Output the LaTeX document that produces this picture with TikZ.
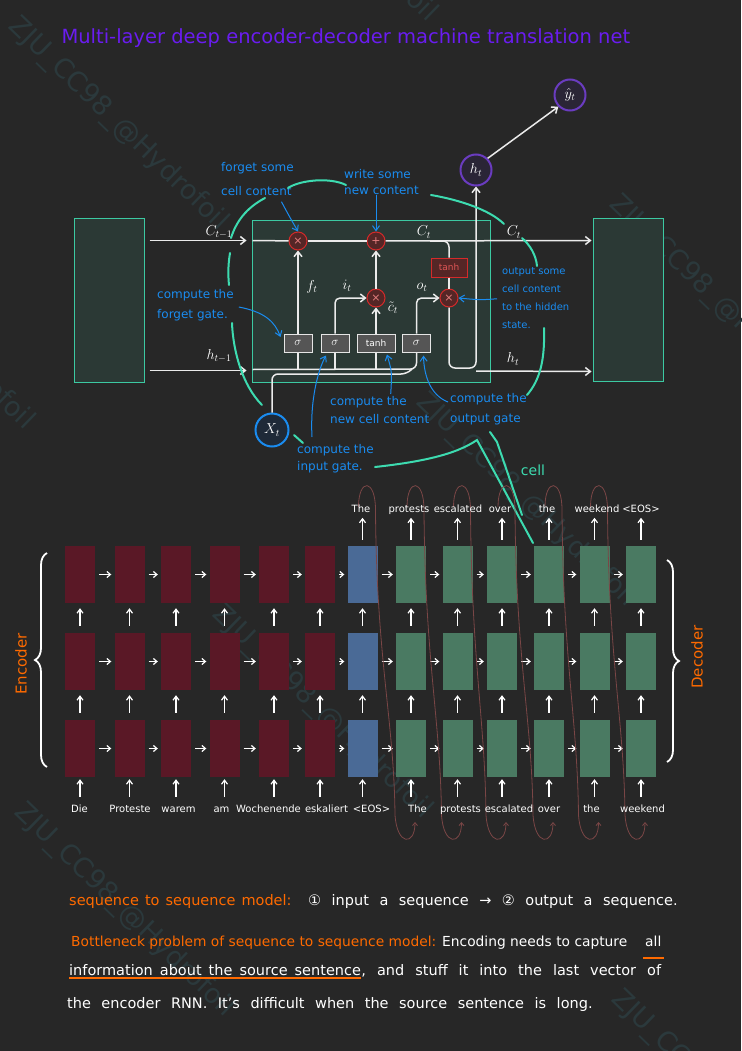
\documentclass[tikz,border=0pt]{standalone}
\usepackage{fontspec}
\setmainfont{DejaVu Sans}
\usetikzlibrary{calc,positioning,decorations.pathreplacing,arrows.meta}
\newcommand{\wordgap}[1]{\spaceskip=#1\relax}

\begin{document}
\begin{tikzpicture}[x=1pt,y=-1pt,font=\fontsize{11}{13}\selectfont]

% =========================
% Color Definitions
% =========================
\definecolor{bgcol}{HTML}{272727}
\definecolor{wmcol}{HTML}{2B393C}
\definecolor{titlecol}{HTML}{6A1CF0}
\definecolor{cellfill}{HTML}{2B3935}
\definecolor{cellline}{HTML}{3CC9A2}
\definecolor{ringcol}{HTML}{3DDBB0}
\definecolor{notecol}{HTML}{1A8CF0}
\definecolor{opred}{HTML}{D42A2A}
\definecolor{opfill}{HTML}{552626}
\definecolor{gatefill}{HTML}{555555}
\definecolor{hidcol}{HTML}{6A3CC0}
\definecolor{hidfill}{HTML}{2A2536}
\definecolor{xfill}{HTML}{1F2A38}
\definecolor{encfill}{HTML}{5A1826}
\definecolor{eosfill}{HTML}{4A6A96}
\definecolor{decfill}{HTML}{4A7A62}
\definecolor{feedcol}{HTML}{7A4646}
\definecolor{orangecol}{HTML}{FF6A00}

% =========================
% Canvas
% =========================
\fill[bgcol] (0,0) rectangle (741,1051);
\useasboundingbox (0,0) rectangle (741,1051);

% =========================
% Styles
% =========================
\tikzset{
    wmark/.style={text=wmcol, font=\fontsize{27}{27}\selectfont, rotate=-44, anchor=west, inner sep=0pt},
    cellrect/.style={draw=cellline, fill=cellfill, line width=1pt, inner sep=0pt},
    pointop/.style={circle, draw=opred, fill=opfill, line width=1pt, minimum size=18pt, inner sep=0pt,
        text=opred!60!white, font=\fontsize{11}{11}\selectfont},
    gatebox/.style={draw=white!90!black, fill=gatefill, line width=1pt, minimum height=18pt, inner sep=0pt,
        text=white, font=\fontsize{9}{9}\selectfont},
    statecirc/.style={circle, line width=2pt, minimum size=31pt, inner sep=0pt, text=white,
        font=\fontsize{14}{14}\selectfont},
    wline/.style={draw=white!92!black, line width=1.5pt},
    warrow/.style={wline, -{Straight Barb[length=5pt,width=8pt]}},
    note/.style={text=notecol, align=left, inner sep=0pt, anchor=north west},
    noteline/.style={draw=notecol, line width=1pt, -{Straight Barb[length=5pt,width=7pt]}},
    ringline/.style={draw=ringcol, line width=2pt, line cap=round},
    statelabel/.style={text=white, font=\fontsize{14}{14}\selectfont},
    rnnbox/.style={minimum width=30pt, minimum height=57pt, inner sep=0pt},
    harrow/.style={draw=white, line width=1.2pt, -{Straight Barb[length=3.5pt,width=6pt]}},
    varrow/.style={draw=white, line width=1.2pt, -{Straight Barb[length=4pt,width=6pt]}},
    wordlab/.style={anchor=base, inner sep=0pt, text=white, font=\fontsize{10}{10}\selectfont},
    feedline/.style={draw=feedcol, line width=0.8pt, -{Straight Barb[length=3pt,width=5pt]}},
    sidebrace/.style={draw=white, line width=1.8pt, decorate, decoration={brace, amplitude=12pt}},
    sidelabel/.style={rotate=90, text=orangecol, font=\fontsize{15}{15}\selectfont},
    para/.style={anchor=base west, inner sep=0pt, text=white, font=\fontsize{14.5}{15}\selectfont}
}

% =========================
% Watermarks
% =========================
\foreach \wx/\wy [count=\k] in {12/22, 221/-187, 613/200, -182/221, 420/398, 216/610, 18/808, 615/995}
    \node[wmark] (wm\k) at (\wx,\wy) {ZJU\_CC98\_@Hydrofoil};

% =========================
% Title
% =========================
\node[anchor=west, text=titlecol, font=\fontsize{19.5}{22}\selectfont] (title) at (58,38)
    {Multi-layer deep encoder-decoder machine translation net};

% =========================
% LSTM cell
% =========================
\node[cellrect, minimum width=70pt, minimum height=164pt] (prevcell) at (109,300) {};
\node[cellrect, minimum width=70pt, minimum height=163pt] (nextcell) at (628,299.5) {};
\node[cellrect, minimum width=238pt, minimum height=162pt] (cell) at (371,301) {};

\node[pointop] (mulf) at (298,241) {×};
\node[pointop] (addc) at (376,241) {+};
\node[pointop] (muli) at (376,298) {×};
\node[pointop] (mulo) at (449,298) {×};
\node[draw=opred, fill=opfill, line width=1pt, minimum width=36pt, minimum height=19pt, inner sep=0pt,
    text=opred!80!white, font=\fontsize{9}{9}\selectfont] (tanhc) at (449,267.5) {tanh};

\node[gatebox, minimum width=28pt, font=\fontsize{13}{13}\selectfont] (sigf) at (298,343) {$\sigma$};
\node[gatebox, minimum width=28pt, font=\fontsize{13}{13}\selectfont] (sigi) at (335,343) {$\sigma$};
\node[gatebox, minimum width=38pt] (tanhg) at (376,343) {tanh};
\node[gatebox, minimum width=28pt, font=\fontsize{13}{13}\selectfont] (sigo) at (416.5,343) {$\sigma$};

\node[statecirc, draw=hidcol, fill=hidfill] (hcirc) at (476,170) {$h_t$};
\node[statecirc, draw=hidcol, fill=hidfill] (ycirc) at (570,95) {$\hat{y}_t$};
\node[statecirc, draw=notecol, fill=xfill, minimum size=33pt] (xcirc) at (272,430) {$X_t$};

% cell state and hidden state lines
\draw[warrow] ($(prevcell.north east)+(5,23)$) -- ($(cell.north west)+(-5,21)$);
\draw[warrow] ($(prevcell.south east)+(5,-12)$) -- ($(cell.south west)+(-5,-12)$);
\draw[wline] ($(cell.north west)+(1,21)$) -- (mulf);
\draw[wline] (mulf) -- (addc);
\draw[warrow] (addc) -- ($(nextcell.north west)+(-1,23)$);
\draw[wline, rounded corners=6] (430,241) -- (449,241) -- (tanhc.north);
\draw[wline] (tanhc.south) -- (mulo.north);
\draw[warrow, rounded corners=6] (mulo.south) -- (449,368) -- (476,368) -- (hcirc.south);
\draw[warrow] (476,371) -- ($(nextcell.south west)+(-1,-10)$);
\draw[warrow] (hcirc.north east) -- (ycirc.south west);

% input bus
\draw[wline, rounded corners=6] ($(cell.south west)+(1,-13)$) -- (416.5,369) -- (sigo.south);
\draw[wline, rounded corners=6] (xcirc.north) -- (272,374) -- (407,374) -- (412,369);
\draw[wline] (sigf.south) -- ($(sigf.south)+(0,17)$);
\draw[wline] (sigi.south) -- ($(sigi.south)+(0,17)$);
\draw[wline] (tanhg.south) -- ($(tanhg.south)+(0,17)$);

% gate outputs
\draw[warrow] (sigf.north) -- (mulf.south);
\draw[warrow, rounded corners=5] (sigi.north) |- (muli.west);
\draw[warrow] (tanhg.north) -- (muli.south);
\draw[warrow] (muli.north) -- (addc.south);
\draw[warrow, rounded corners=5] (sigo.north) |- (mulo.west);

% state labels
\node[statelabel] (lcprev) at (219,232) {$C_{t-1}$};
\node[statelabel] (lhprev) at (219,356) {$h_{t-1}$};
\node[statelabel] (lcin) at (424,232) {$C_t$};
\node[statelabel] (lcout) at (514,232) {$C_t$};
\node[statelabel] (lhout) at (513,359) {$h_t$};
\node[statelabel] (lf) at (312,287) {$f_t$};
\node[statelabel] (li) at (347,286) {$i_t$};
\node[statelabel] (lct) at (393,308) {$\tilde{c}_t$};
\node[statelabel] (lo) at (422,287) {$o_t$};

% =========================
% Annotations
% =========================
\node[note, font=\fontsize{12}{24}\selectfont] (forgetnote) at (221,162) {forget some\\cell content};
\node[note, font=\fontsize{12}{16}\selectfont] (writenote) at (344,169) {write some\\new content};
\node[note, font=\fontsize{12}{20}\selectfont] (fgatenote) at (157,289) {compute the\\forget gate.};
\node[note, font=\fontsize{10}{18}\selectfont] (outnote) at (502,267) {output some\\cell content\\to the hidden\\state.};
\node[note, font=\fontsize{12}{18}\selectfont] (cellnote) at (330,396) {compute the\\new cell content};
\node[note, font=\fontsize{12}{20}\selectfont] (ogatenote) at (450,393) {compute the\\output gate};
\node[note, font=\fontsize{12}{17}\selectfont] (igatenote) at (297,444) {compute the\\input gate.};

\draw[noteline] ($(forgetnote.south)+(24,6)$) .. controls (288,214) .. (mulf.north);
\draw[noteline] (addc |- writenote.south) -- (addc.north);
\draw[noteline] ($(fgatenote.east)+(5,2)$) .. controls (265,312) and (275,322) .. ($(sigf.west)+(-3,-6)$);
\draw[noteline] ($(outnote.west)+(-5,1)$) .. controls (480,300) .. (mulo.east);
\draw[noteline] ($(cellnote.north)+(11,-2)$) .. controls (392,372) .. ($(tanhg.south)+(11,2)$);
\draw[noteline] ($(ogatenote.north west)+(-2,9)$) .. controls (430,395) and (424,375) .. ($(sigo.south)+(7,3)$);
\draw[noteline] ($(igatenote.north west)+(15,-7)$) .. controls (310,400) and (318,370) .. ($(sigi.south)+(-9,3)$);

% ring around the cell
\draw[ringline] (231,238) .. controls (236,222) and (246,208) .. (265,198);
\draw[ringline] (288,188) .. controls (300,180) and (330,177) .. (346,185);
\draw[ringline] (431,195) .. controls (460,200) and (490,210) .. (504,224);
\draw[ringline] (522,238) .. controls (530,245) and (536,255) .. (537,266);
\draw[ringline] (230,253) .. controls (228,265) and (228,275) .. (229,285);
\draw[ringline] (232,323) .. controls (233,350) and (242,385) .. (262,405);
\draw[ringline] (294,435) -- (303,443);
\draw[ringline] (544,328) .. controls (545,360) and (540,380) .. (527,395);
\draw[ringline] (375,467) .. controls (420,462) and (455,455) .. (477,440) -- (533,543);
\draw[ringline] (490,432) -- (497,442) -- (522,515);
\node[text=ringcol, font=\fontsize{14}{14}\selectfont] (celllabel) at (533,470) {cell};

% =========================
% Encoder-decoder grid
% =========================
\foreach \i/\x/\c in {1/80/encfill, 2/129.5/encfill, 3/176/encfill, 4/224.5/encfill, 5/274/encfill,
    6/320/encfill, 7/362.5/eosfill, 8/411/decfill, 9/457.5/decfill, 10/502/decfill, 11/549/decfill,
    12/594.5/decfill, 13/641/decfill}
{
    \node[rnnbox, fill=\c] (b\i-1) at (\x,574.5) {};
    \node[rnnbox, fill=\c] (b\i-2) at (\x,661.5) {};
    \node[rnnbox, fill=\c] (b\i-3) at (\x,748.5) {};
}

\foreach \i [count=\j from 2] in {1,...,12}
    \foreach \r in {1,2,3}
        \draw[harrow] ($(b\i-\r.east)+(4,0)$) -- ($(b\j-\r.west)+(-3,0)$);

\foreach \i in {1,...,13} {
    \draw[varrow] ($(b\i-3.south)+(0,20)$) -- ($(b\i-3.south)+(0,2)$);
    \draw[varrow] ($(b\i-3.north)+(0,-7)$) -- ($(b\i-2.south)+(0,5)$);
    \draw[varrow] ($(b\i-2.north)+(0,-7)$) -- ($(b\i-1.south)+(0,5)$);
}
\foreach \i in {7,...,13}
    \draw[varrow] ($(b\i-1.north)+(0,-6)$) -- ($(b\i-1.north)+(0,-28)$);

% feeding each output back as the next input
\foreach \xa/\xb in {362.5/411, 411/457.5, 457.5/502, 502/549, 549/594.5, 594.5/641}
    \draw[feedline] (\xa-4,507) .. controls (\xa-4,478) and (\xa+13,478) .. (\xa+13,510)
        .. controls (\xa+14,660) and (\xb-17,720) .. (\xb-16,815)
        .. controls (\xb-14,846) and (\xb+4,846) .. (\xb+4,822);

% words
\foreach \w/\x [count=\k] in {Die/79.5, Proteste/130, warem/178.5, am/221.5, Wochenende/268.5,
    eskaliert/326.5, <EOS>/371.5, The/417.5, protests/460.5, escalated/509, over/549, the/591.5, weekend/642.5}
    \node[wordlab] (in\k) at (\x,812) {\w};
\foreach \w/\x [count=\k from 7] in {The/361, protests/409, escalated/458, over/500, the/547, weekend/597, <EOS>/641}
    \node[wordlab] (out\k) at (\x,512) {\w};

% braces
\draw[sidebrace] (47,767) -- (47,553);
\draw[sidebrace] (667,560) -- (667,762);
\node[sidelabel] (enclabel) at (21,664) {Encoder};
\node[sidelabel] (declabel) at (697,657) {Decoder};

% =========================
% Notes below
% =========================
\node[para, text=orangecol, font=\fontsize{14.5}{15}\selectfont\wordgap{6pt}] (seqa) at (69,905)
    {sequence to sequence model:};
\node[para, font=\fontsize{14.5}{15}\selectfont\wordgap{10.5pt}] (seqb) at (308,905)
    {① input a sequence → ② output a sequence.};

\node[para, text=orangecol, font=\fontsize{13.8}{15}\selectfont] (bneck) at (71,946)
    {Bottleneck problem of sequence to sequence model:};
\node[para, font=\fontsize{13.8}{15}\selectfont] (bneckb) at (442,946) {Encoding needs to capture};
\node[para, font=\fontsize{13.8}{15}\selectfont] (allword) at (645,946) {all};
\draw[orangecol, line width=1.3pt] ($(allword.base west)+(-2,12)$) -- ($(allword.base east)+(2,12)$);

\node[para, font=\fontsize{14.5}{15}\selectfont\wordgap{7pt}] (infoword) at (69,975)
    {information about the source sentence};
\node[para, font=\fontsize{14.5}{15}\selectfont\wordgap{11pt}] (infob) at (infoword.base east)
    {, and stuff it into the last vector of};
\draw[orangecol, line width=1.3pt] ($(infoword.base west)+(0,3)$) -- ($(infoword.base east)+(0,3)$);

\node[para, font=\fontsize{14.5}{15}\selectfont\wordgap{10.5pt}] (lastline) at (67,1008)
    {the encoder RNN. It's difficult when the source sentence is long.};

\end{tikzpicture}
\end{document}
